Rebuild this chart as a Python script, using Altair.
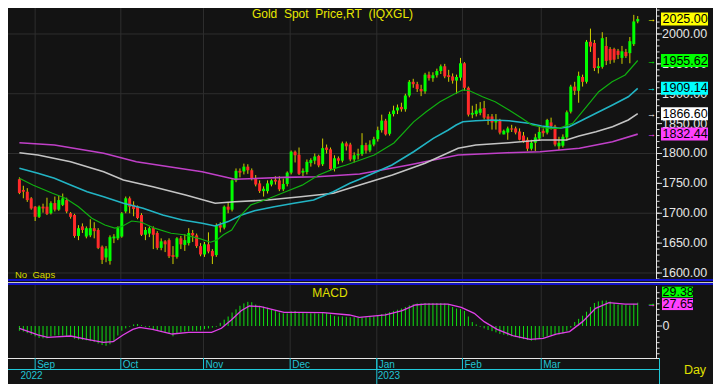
import altair as alt
import pandas as pd

FONT = "Liberation Sans"
BG = "#131313"
GRID = "#2e2e2e"
UP = "#00ff00"
DOWN = "#ff2a2a"
WICK = "#d0d000"
CYAN_TXT = "#22c4d4"

# ---------------- data ----------------
opens = [1757,1739,1736,1725,1711,1694,1711,1711,1700,1717,
         1706,1714,1722,1700,1697,1662,1678,1661,1663,1675,
         1672,1644,1626,1620,1658,1658,1661,1703,1725,1714,
         1711,1697,1664,1666,1675,1667,1642,1653,1655,1630,
         1627,1658,1647,1650,1667,1663,1645,1631,1648,1637,
         1630,1680,1676,1711,1706,1755,1771,1770,1778,1772,
         1759,1750,1737,1737,1748,1756,1755,1740,1749,1768,
         1803,1798,1768,1769,1784,1788,1796,1782,1810,1807,
         1775,1792,1788,1817,1815,1790,1797,1799,1814,1805,
         1815,1824,1839,1855,1833,1866,1872,1878,1874,1897,
         1920,1916,1908,1904,1932,1926,1931,1938,1946,1931,
         1929,1922,1927,1951,1910,1865,1866,1868,1876,1862,
         1862,1852,1855,1832,1835,1842,1842,1837,1830,1823,
         1808,1818,1825,1838,1835,1852,1845,1812,1813,1827,
         1870,1912,1905,1928,1920,1987,1985,1943,1945,1980,
         1975,1975,1972,1960,1970,1968,1983,2021]
closes = [1734,1736,1722,1708,1694,1711,1708,1699,1717,1706,
          1722,1725,1703,1694,1662,1675,1672,1675,1675,1670,
          1642,1622,1641,1660,1661,1675,1700,1725,1711,1707,
          1692,1664,1672,1675,1664,1642,1653,1648,1628,1627,
          1658,1648,1655,1667,1663,1645,1631,1648,1636,1628,
          1680,1676,1711,1706,1755,1771,1768,1778,1772,1759,
          1748,1737,1741,1750,1755,1753,1740,1749,1768,1803,
          1797,1766,1771,1786,1789,1795,1780,1809,1806,1774,
          1792,1788,1817,1812,1790,1797,1799,1814,1805,1815,
          1824,1839,1855,1832,1866,1872,1877,1874,1897,1920,
          1916,1908,1904,1932,1926,1931,1938,1946,1929,1928,
          1922,1928,1951,1910,1865,1868,1872,1875,1860,1858,
          1852,1855,1835,1838,1842,1840,1835,1823,1820,1808,
          1818,1827,1836,1834,1856,1846,1815,1818,1828,1869,
          1912,1905,1930,1920,1987,1979,1943,1946,1993,1955,
          1956,1957,1965,1971,1963,1988,2021,2025]
highs = [1760,1746,1742,1727,1712,1713,1716,1726,1720,1728,
         1729,1733,1726,1702,1699,1680,1683,1678,1690,1685,
         1675,1646,1645,1663,1665,1678,1702,1728,1728,1720,
         1713,1700,1677,1678,1678,1670,1658,1655,1658,1645,
         1660,1662,1665,1675,1672,1666,1650,1652,1668,1640,
         1683,1685,1713,1718,1757,1775,1775,1783,1782,1775,
         1764,1755,1745,1755,1757,1762,1762,1758,1770,1805,
         1805,1810,1775,1790,1792,1800,1798,1825,1815,1810,
         1797,1795,1820,1820,1818,1802,1808,1834,1818,1822,
         1828,1845,1865,1858,1870,1880,1882,1885,1900,1923,
         1925,1920,1915,1935,1937,1936,1942,1949,1950,1940,
         1934,1932,1960,1953,1912,1880,1883,1886,1888,1866,
         1866,1866,1858,1840,1845,1848,1845,1842,1836,1827,
         1823,1833,1845,1842,1858,1860,1848,1828,1832,1872,
         1915,1920,1937,1932,1990,2009,1990,1960,2003,1995,
         1978,1977,1975,1980,1975,1995,2032,2030]
lows = [1732,1725,1719,1706,1687,1692,1701,1697,1698,1703,
        1704,1712,1700,1691,1659,1655,1667,1658,1660,1658,
        1640,1615,1618,1614,1650,1655,1659,1700,1700,1695,
        1690,1662,1655,1660,1640,1639,1638,1635,1625,1615,
        1624,1640,1637,1646,1652,1642,1628,1627,1633,1615,
        1627,1668,1673,1700,1703,1752,1760,1765,1766,1755,
        1745,1734,1728,1733,1745,1748,1737,1737,1745,1765,
        1785,1764,1762,1765,1778,1782,1777,1779,1800,1772,
        1770,1782,1785,1805,1787,1785,1790,1796,1800,1802,
        1812,1820,1835,1830,1830,1862,1866,1870,1870,1894,
        1910,1903,1896,1900,1922,1920,1927,1933,1926,1920,
        1917,1900,1922,1905,1862,1859,1862,1864,1857,1848,
        1840,1840,1832,1832,1823,1836,1832,1822,1818,1804,
        1805,1804,1822,1828,1832,1840,1812,1806,1810,1822,
        1867,1898,1885,1912,1917,1970,1938,1934,1942,1948,
        1950,1952,1958,1950,1960,1951,1980,2018]

# moving averages (bar index, value)
ma20_idx = [0, 3.4, 8.4, 11.7, 15, 18.4, 21.7, 24.2, 25.9, 28.5, 31, 34.3, 38.5, 41.8, 46, 48.5,
            50.1, 51.8, 53.9, 56.3, 58.8, 63.5, 67.6, 71.8, 76, 80.1, 83, 90.1, 95.1, 100.1,
            103.3, 106.8, 110.8, 112.6, 114.3, 117.6, 120.8, 124.3, 127.6, 130.1, 134.2, 137,
            140.5, 144, 147.1, 150.5, 153.8, 157]
ma20_val = [1758.5, 1747.3, 1733.4, 1725, 1711, 1691.6, 1680.3, 1675, 1677.5, 1687, 1685, 1675,
            1666.5, 1664, 1657, 1651.5, 1655, 1664, 1672, 1697, 1714, 1725, 1736, 1747, 1764,
            1775, 1780.8, 1797.5, 1817.6, 1853, 1870, 1886.7, 1900.8, 1906.3, 1905, 1895,
            1886.7, 1872.8, 1859, 1847.7, 1842, 1842, 1850.6, 1878.3, 1903.4, 1920.2, 1931.4,
            1955.62]
ma50_idx = [0, 4.7, 8.9, 13, 17.2, 21.4, 26.4, 31.4, 36.4, 41.4, 46.4, 49.7, 53, 56.4, 59.7,
            64.7, 69.7, 74.7, 79.7, 83.9, 86.4, 94.6, 100.1, 105.1, 108.9, 110.9, 112.6, 115.9,
            120.1, 124.3, 129.3, 132.6, 137.1, 139.6, 142.1, 146.4, 150.6, 154.6, 157]
ma50_val = [1775.2, 1766.9, 1758.5, 1747.3, 1736.1, 1727.7, 1716.7, 1708.3, 1697, 1688.8,
            1683.2, 1678.7, 1686, 1697, 1704.3, 1711, 1716.7, 1722.2, 1736.1, 1750.1, 1756.8,
            1780.8, 1803, 1825.4, 1839.3, 1847.7, 1853.2, 1854.9, 1856, 1854.9, 1850.6, 1846,
            1842.2, 1844.9, 1853.2, 1867.3, 1881.2, 1895, 1909.14]
ma100_idx = [0, 4.7, 13, 21.4, 26.4, 33.9, 42.2, 49.7, 54.7, 63, 71.4, 79.7, 86.4, 94.7, 103,
             111.4, 115.9, 124.3, 132.6, 138.9, 142.1, 146.4, 150.6, 154.6, 157]
ma100_val = [1801.3, 1797.5, 1786.3, 1769.5, 1755.7, 1744.4, 1730.5, 1716.7, 1719.3, 1722.2,
             1727.7, 1733.4, 1747.3, 1764, 1783.6, 1808.7, 1814.2, 1818.1, 1822.6, 1822.6,
             1829.3, 1836.5, 1844.9, 1856.1, 1866.6]
ma200_idx = [0, 8.9, 21.4, 29.7, 38, 46.4, 54.7, 67.2, 75.6, 86.4, 98.9, 111.4, 123.9, 132.2,
             142.2, 150.6, 157]
ma200_val = [1818, 1814.2, 1800.3, 1786.3, 1777.9, 1769.5, 1756.8, 1760, 1761.2, 1765.7, 1780.8,
             1797.5, 1801.3, 1803, 1808.7, 1819.8, 1832.44]

macd_hist = [-6, -7, -9, -11, -13, -15, -15.5, -15.5, -13, -12,
             -12, -12, -12.5, -13, -16, -17, -17.5, -18, -19, -20,
             -22, -24, -25, -23, -20, -12, -6, -3, -1, 2,
             2.5, 1, -1, -1.5, -4, -5.5, -7, -8, -10, -13,
             -9, -8, -7, -6.5, -6, -6, -5.5, -4, -3, -2,
             -1, 4, 8, 12, 17, 21, 25.5, 28.5, 30.5, 30,
             27, 25.5, 24.5, 23, 21, 19, 17, 16, 16, 18.5,
             19, 17.5, 16.5, 16, 16, 16, 15.5, 16.5, 16, 14.5,
             12.5, 12, 12, 11.5, 11, 11, 11, 11, 11, 11.5,
             12, 13, 15, 16, 17.5, 19, 20.5, 22, 24, 26,
             27.5, 28.5, 28.5, 29, 29, 29, 29, 29, 28.5, 27,
             24, 22, 21.5, 19, 12, 5, 2, -1, -3, -5,
             -6.5, -8, -10, -11, -12, -13, -14, -15.5, -16.5, -17.5,
             -18.5, -18, -16, -14.5, -13, -12, -11.5, -10.5, -9.5, -6,
             -2, 5, 9, 13, 18, 24, 29, 31, 32, 32,
             31, 29, 27, 27, 26.5, 26, 28, 29.38]
sig_idx = [0, 4.7, 7.2, 13, 17.2, 21.3, 23.8, 26.3, 28.8, 30.5, 33.8, 38.8, 43, 48.8, 51.3,
           53.8, 56.3, 58.4, 61.3, 67.2, 71.3, 77.2, 83.8, 86.3, 93, 97.2, 100.5, 103, 108.8,
           112.2, 115.5, 118, 121.3, 125.5, 129.7, 133, 136.3, 139.7, 143, 146.3, 149.7, 153.8,
           157]
sig_val = [-2.9, -11.3, -14.3, -12.6, -16.8, -20.6, -19.8, -11.3, -4.2, -1.7, -4.2, -10.1, -8,
           -8, -2.9, 7.6, 19.3, 25.2, 24.4, 17.2, 17.2, 16.8, 13.9, 10.9, 13.9, 19.3, 26.5, 27.7,
           27.7, 23.5, 16, 5.5, -4.2, -12.6, -16.8, -15.6, -10.1, -7.1, 5.5, 22.3, 29.4, 27.7,
           27.65]

month_names = ["Sep", "Oct", "Nov", "Dec", "Jan", "Feb", "Mar"]
month_pos = [4.0, 25.75, 46.75, 68.75, 90.75, 112.5, 132.5]
year_names = ["2022", "2023"]
year_pos = [0.0, 90.75]

price_grid = [1600, 1700, 1800, 1900, 2000]
price_labels = [1600, 1650, 1700, 1750, 1800, 1850, 1900, 1950, 2000]
price_minor = list(range(1590, 2041, 10))
macd_ticks = [-35, -28, -21, -14, -7, 7, 14, 21, 28, 35, 42]

tag_vals = [2025.00, 1955.62, 1909.14, 1866.60, 1832.44]
tag_colors = ["#ffff00", "#00ff00", "#00ffff", "#ffffff", "#ff40ff"]
macd_tag_vals = [29.38, 27.65]
macd_tag_colors = ["#00ff00", "#ff40ff"]

title_text = "Gold\u00a0\u00a0Spot\u00a0\u00a0Price,RT\u00a0\u00a0(IQXGL)"

# ---------------- scales ----------------
XS = alt.Scale(domain=[-1.625, 160.625], nice=False, zero=False)
PS = alt.Scale(domain=[1457.74, 2043.51], nice=False, zero=False)
MS = alt.Scale(domain=[-40.35, 401.0], nice=False, zero=False)

N = len(closes)
candles = pd.DataFrame({"i": list(range(N)), "o": opens, "h": highs, "l": lows, "c": closes})
candles["top"] = candles[["o", "c"]].max(axis=1)
candles["bot"] = candles[["o", "c"]].min(axis=1)
candles["col"] = [UP if c >= o else DOWN for o, c in zip(opens, closes)]

def X(field):
    return alt.X(field, type="quantitative", scale=XS, axis=None)

def YP(field):
    return alt.Y(field, type="quantitative", scale=PS, axis=None)

def YM(field):
    return alt.Y(field, type="quantitative", scale=MS, axis=None)

one = pd.DataFrame({"k": [0]})

# ---------------- price panel ----------------
vgrid = alt.Chart(pd.DataFrame({"pos": month_pos})).mark_rule(color=GRID, strokeWidth=1).encode(
    x=X("pos"), y=alt.value(0), y2=alt.value(350))
hgrid = alt.Chart(pd.DataFrame({"p": price_grid})).mark_rule(color=GRID, strokeWidth=1).encode(
    y=YP("p"), x=alt.value(0), x2=alt.value(648.5))
wicks = alt.Chart(candles).mark_rule(color=WICK, strokeWidth=1).encode(
    x=X("i"), y=YP("l"), y2="h:Q")
bodies = alt.Chart(candles).mark_bar(size=3).encode(
    x=X("i"), y=YP("bot"), y2="top:Q", color=alt.Color("col:N", scale=None))

def ma_line(idx, vals, color, width):
    return alt.Chart(pd.DataFrame({"i": idx, "v": vals})).mark_line(
        color=color, strokeWidth=width).encode(x=X("i"), y=YP("v"))

ma200 = ma_line(ma200_idx, ma200_val, "#c040c8", 1.6)
ma100 = ma_line(ma100_idx, ma100_val, "#c4c4c4", 1.6)
ma50 = ma_line(ma50_idx, ma50_val, "#22b4c4", 1.6)
ma20 = ma_line(ma20_idx, ma20_val, "#10b010", 1.2)

minor_t = alt.Chart(pd.DataFrame({"p": price_minor})).mark_rule(color="#e0e0e0").encode(
    y=YP("p"), x=alt.value(648.5), x2=alt.value(651.5))
major_t = alt.Chart(pd.DataFrame({"p": price_labels})).mark_rule(color="#e0e0e0").encode(
    y=YP("p"), x=alt.value(648.5), x2=alt.value(654))
p_labels = alt.Chart(pd.DataFrame({"p": price_labels})).mark_text(
    align="left", baseline="middle", font=FONT, fontSize=12.5, color="#e6e6e6").encode(
    y=YP("p"), x=alt.value(654), text=alt.Text("p:Q", format=".2f"))

tags = pd.DataFrame({"v": tag_vals, "c": tag_colors})
tag_box = alt.Chart(tags).mark_rect(yOffset=-6.5, y2Offset=6.5).encode(
    y=YP("v"), y2="v:Q", x=alt.value(653), x2=alt.value(700), color=alt.Color("c:N", scale=None))
tag_txt = alt.Chart(tags).mark_text(align="left", baseline="middle", font=FONT, fontSize=12.5,
                                   color="#000000").encode(
    y=YP("v"), x=alt.value(654.5), text=alt.Text("v:Q", format=".2f"))
tag_arrow = alt.Chart(tags).mark_text(text="\u2192", align="center", baseline="middle",
                                      font=FONT, fontSize=9, fontWeight="bold").encode(
    y=YP("v"), x=alt.value(643.5), color=alt.Color("c:N", scale=None))

price_layer = alt.layer(hgrid, wicks, bodies, ma200, ma100, ma50, ma20,
                        minor_t, major_t, p_labels, tag_box, tag_txt, tag_arrow)

# ---------------- MACD panel ----------------
mdf = pd.DataFrame({"i": list(range(N)), "h": macd_hist, "z": [0] * N})
hist = alt.Chart(mdf).mark_rule(color="#10e010", strokeWidth=1).encode(
    x=X("i"), y=YM("h"), y2="z:Q")
sig = alt.Chart(pd.DataFrame({"i": sig_idx, "v": sig_val})).mark_line(
    color="#e040e8", strokeWidth=1.3).encode(x=X("i"), y=YM("v"))
m_ticks = alt.Chart(pd.DataFrame({"v": macd_ticks})).mark_rule(color="#e0e0e0").encode(
    y=YM("v"), x=alt.value(648.5), x2=alt.value(651.5))
m_zero = pd.DataFrame({"v": [0]})
m_zero_t = alt.Chart(m_zero).mark_rule(color="#e0e0e0").encode(
    y=YM("v"), x=alt.value(648.5), x2=alt.value(654))
m_zero_l = alt.Chart(m_zero).mark_text(align="left", baseline="middle", font=FONT, fontSize=12.5,
                                       color="#e6e6e6").encode(
    y=YM("v"), x=alt.value(654.5), text=alt.Text("v:Q", format="d"))

mt0 = pd.DataFrame({"v": [macd_tag_vals[0]], "c": [macd_tag_colors[0]]})
mt1 = pd.DataFrame({"v": [macd_tag_vals[1]], "c": [macd_tag_colors[1]]})
mt_box0 = alt.Chart(mt0).mark_rect(yOffset=-16, y2Offset=-5.5).encode(
    y=YM("v"), y2="v:Q", x=alt.value(654), x2=alt.value(685), color=alt.Color("c:N", scale=None))
mt_txt0 = alt.Chart(mt0).mark_text(align="left", baseline="middle", font=FONT, fontSize=12.5,
                                   color="#000000", dy=-10.7).encode(
    y=YM("v"), x=alt.value(654.5), text=alt.Text("v:Q", format=".2f"))
mt_box1 = alt.Chart(mt1).mark_rect(yOffset=-6, y2Offset=6).encode(
    y=YM("v"), y2="v:Q", x=alt.value(654), x2=alt.value(685), color=alt.Color("c:N", scale=None))
mt_txt1 = alt.Chart(mt1).mark_text(align="left", baseline="middle", font=FONT, fontSize=12.5,
                                   color="#000000").encode(
    y=YM("v"), x=alt.value(654.5), text=alt.Text("v:Q", format=".2f"))
m_arrows = alt.Chart(pd.DataFrame({"v": macd_tag_vals, "c": macd_tag_colors})).mark_text(
    text="\u2192", align="center", baseline="middle", font=FONT, fontSize=9, fontWeight="bold").encode(
    y=YM("v"), x=alt.value(643.5), color=alt.Color("c:N", scale=None))

macd_layer = alt.layer(hist, sig, m_ticks, m_zero_t, m_zero_l,
                       mt_box0, mt_txt0, mt_box1, mt_txt1, m_arrows)

# ---------------- frame / axis decorations ----------------
def hline(y, x1, x2, color, w=1):
    return alt.Chart(one).mark_rule(color=color, strokeWidth=w).encode(
        y=alt.value(y), x=alt.value(x1), x2=alt.value(x2))

def vline(x, y1, y2, color, w=1):
    return alt.Chart(one).mark_rule(color=color, strokeWidth=w).encode(
        x=alt.value(x), y=alt.value(y1), y2=alt.value(y2))

deco = [
    hline(272, 0, 705, "#1010c8", 2),
    hline(274.5, 0, 705, "#c8c8c8", 1),
    hline(276, 0, 705, "#1010c8", 2),
    vline(648.5, 0, 271, "#e6e6e6"),
    vline(648.5, 278, 350, "#e6e6e6"),
    hline(350.5, 0, 651, "#e6e6e6"),
    hline(361.5, 0, 651, "#20c8d8"),
    vline(651.5, 350, 376, "#20c8d8"),
]

m_tick_marks = alt.Chart(pd.DataFrame({"pos": month_pos})).mark_rule(color="#20c8d8").encode(
    x=X("pos"), y=alt.value(350), y2=alt.value(361))
y_tick_marks = alt.Chart(pd.DataFrame({"pos": year_pos[1:]})).mark_rule(color="#20c8d8").encode(
    x=X("pos"), y=alt.value(350), y2=alt.value(376))
m_text = alt.Chart(pd.DataFrame({"pos": month_pos, "m": month_names})).mark_text(
    align="left", baseline="middle", dx=2, font=FONT, fontSize=10, color=CYAN_TXT).encode(
    x=X("pos"), y=alt.value(357), text="m:N")
y_text = alt.Chart(pd.DataFrame({"pos": year_pos, "y": year_names})).mark_text(
    align="left", baseline="middle", dx=1, font=FONT, fontSize=10, color=CYAN_TXT).encode(
    x=X("pos"), y=alt.value(368), text="y:N")

def label(txt, x, y, size, color, align="center", baseline="middle"):
    return alt.Chart(pd.DataFrame({"t": [txt]})).mark_text(
        align=align, baseline=baseline, font=FONT, fontSize=size, color=color).encode(
        x=alt.value(x), y=alt.value(y), text="t:N")

texts = [
    label(title_text, 324.5, 1, 12, "#e8e800", baseline="top"),
    label("No\u00a0\u00a0Gaps", 7, 267, 9.5, "#d8d800", align="left"),
    label("MACD", 322, 285, 12, "#e0e000"),
    label("Day", 687, 362, 12.5, "#e0e000"),
]

chart = alt.layer(
    vgrid, price_layer, macd_layer, *deco, m_tick_marks, y_tick_marks, m_text, y_text, *texts
).resolve_scale(y="independent").properties(
    width=649, height=350,
    padding={"left": 0, "top": 0, "right": 56, "bottom": 26},
    autosize=alt.AutoSizeParams(type="none"),
    background=BG,
).configure_view(stroke=None, fill=BG)

chart.save("out.html", embed_options={"renderer": "svg", "actions": False})
